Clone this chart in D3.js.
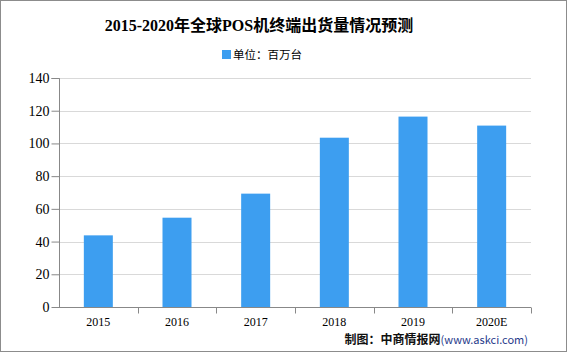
<!DOCTYPE html>
<html>
<head>
<meta charset="utf-8">
<script src="https://cdn.jsdelivr.net/npm/d3@7"></script>
<style>
  body { margin: 0; background: #fff; }
  svg { display: block; }
</style>
</head>
<body>
<svg id="chart"></svg>
<script>
// data
const years = ['2015', '2016', '2017', '2018', '2019', '2020E'];
const shipments = [43.8, 54.6, 69.3, 103.5, 116.4, 110.9];
const yTicks = [0, 20, 40, 60, 80, 100, 120, 140];

const width = 569, height = 353;
const margin = {top: 78, right: 38, bottom: 46, left: 59};
const innerW = 531 - margin.left;
const innerH = 307 - margin.top;
const serif = '"Liberation Serif", "Times New Roman", "Noto Sans CJK SC", serif';
const sans = '"Noto Sans CJK SC", "Noto Sans", sans-serif';

const svg = d3.select('#chart')
    .attr('width', width)
    .attr('height', height);

svg.append('rect')
    .attr('x', 0.5).attr('y', 0.5)
    .attr('width', 566).attr('height', 351)
    .attr('fill', '#fff')
    .attr('stroke', '#8c8c8c')
    .attr('stroke-width', 1);

const chart = svg.append('g')
    .attr('transform', `translate(${margin.left}, ${margin.top})`);

const xscale = d3.scaleBand()
    .domain(years)
    .range([0, innerW]);

const yscale = d3.scaleLinear()
    .domain([0, 140])
    .range([innerH, 0]);

// grid lines
chart.append('g')
    .selectAll('line')
    .data(yTicks.filter(d => d > 0))
    .join('line')
    .attr('x1', 0).attr('x2', innerW)
    .attr('y1', d => Math.round(yscale(d)) + 0.5)
    .attr('y2', d => Math.round(yscale(d)) + 0.5)
    .attr('stroke', '#d9d9d9')
    .attr('stroke-width', 1);

// bars
const barW = 29;
chart.append('g')
    .selectAll('rect')
    .data(years.map((y, i) => ({year: y, value: shipments[i]})))
    .join('rect')
    .attr('x', d => xscale(d.year) + (xscale.bandwidth() - barW) / 2)
    .attr('y', d => yscale(d.value))
    .attr('width', barW)
    .attr('height', d => innerH - yscale(d.value))
    .attr('fill', '#3d9ef0');

// y axis
const yaxis = d3.axisLeft(yscale)
    .tickValues(yTicks)
    .tickSize(8)
    .tickPadding(2);

const yg = chart.append('g')
    .attr('transform', 'translate(0.5, 0)')
    .call(yaxis);
yg.select('.domain').attr('stroke', '#888').attr('d', `M-8,0.5H0V${innerH + 0.5}`);
yg.selectAll('.tick line').attr('stroke', '#888');
yg.selectAll('.tick text')
    .style('font-family', serif)
    .style('font-size', '14px')
    .attr('fill', '#000');

// x axis
const xaxis = d3.axisBottom(xscale)
    .tickSize(0)
    .tickPadding(10);

const xg = chart.append('g')
    .attr('transform', `translate(0, ${innerH + 0.5})`)
    .call(xaxis);
xg.select('.domain').attr('stroke', '#888').attr('d', `M0,0H${innerW}`);
xg.selectAll('.tick text')
    .style('font-family', serif)
    .style('font-size', '12px')
    .attr('fill', '#000');

// tick marks on band boundaries
xg.append('g')
    .selectAll('line')
    .data(years)
    .join('line')
    .attr('x1', d => Math.round(xscale(d) + xscale.bandwidth()) + 0.5)
    .attr('x2', d => Math.round(xscale(d) + xscale.bandwidth()) + 0.5)
    .attr('y1', 0).attr('y2', 6)
    .attr('stroke', '#888');

// title
svg.append('text')
    .attr('x', 259)
    .attr('y', 31)
    .attr('text-anchor', 'middle')
    .style('font-family', serif)
    .style('font-size', '16px')
    .style('font-weight', 'bold')
    .text('2015-2020年全球POS机终端出货量情况预测');

// legend
svg.append('rect')
    .attr('x', 222).attr('y', 50)
    .attr('width', 9).attr('height', 9)
    .attr('fill', '#3d9ef0');
svg.append('text')
    .attr('x', 233)
    .attr('y', 59)
    .style('font-family', sans)
    .style('font-size', '11.5px')
    .text('单位：百万台');

// source note
const src = svg.append('text')
    .attr('x', 528)
    .attr('y', 344)
    .attr('text-anchor', 'end')
    .style('font-family', sans);
src.append('tspan')
    .style('font-size', '12px')
    .style('font-weight', 'bold')
    .attr('fill', '#111')
    .text('制图：中商情报网');
src.append('tspan')
    .style('font-size', '11px')
    .attr('fill', '#1f3a8a')
    .text('(www.askci.com)');
</script>
</body>
</html>
